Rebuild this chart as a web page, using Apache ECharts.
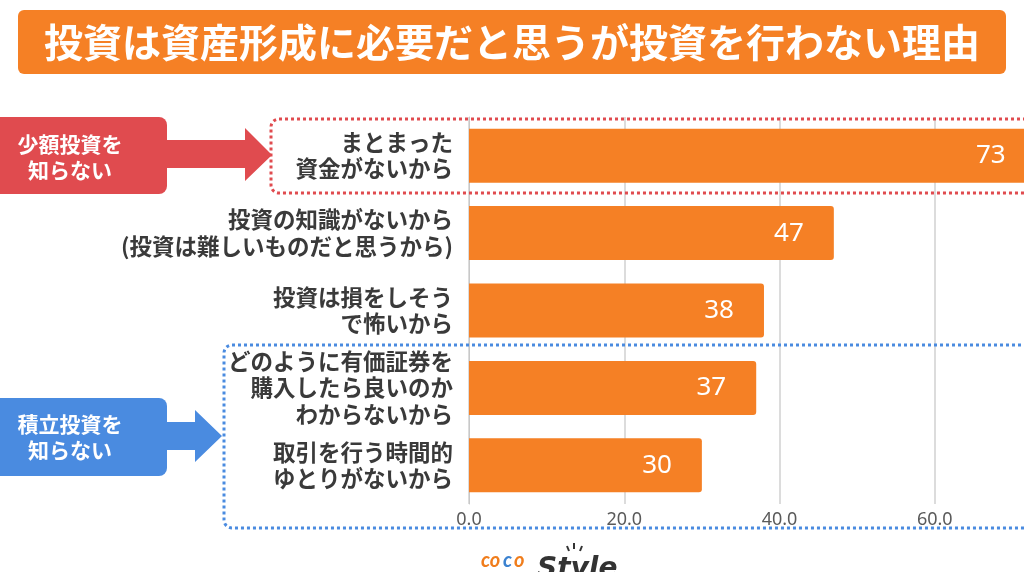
<!DOCTYPE html>
<html>
<head>
<meta charset="utf-8">
<script src="https://cdn.jsdelivr.net/npm/echarts@6/dist/echarts.min.js"></script>
<style>
  html, body { margin: 0; padding: 0; background: #fff; }
  #main { width: 1024px; height: 572px; }
</style>
</head>
<body>
<div id="main"></div>
<script>
var titleText = '投資は資産形成に必要だと思うが投資を行わない理由';
var categories = [
    'まとまった\n資金がないから',
    '投資の知識がないから\n(投資は難しいものだと思うから)',
    '投資は損をしそう\nで怖いから',
    'どのように有価証券を\n購入したら良いのか\nわからないから',
    '取引を行う時間的\nゆとりがないから'
];
var values = [73, 47, 38, 37, 30];
var noteRed = '少額投資を\n知らない';
var noteBlue = '積立投資を\n知らない';

var orange = '#f58025';
var red = '#e04b4f';
var blue = '#4a8be0';
var jp = '"Noto Sans CJK JP", "Noto Sans", sans-serif';

var myChart = echarts.init(document.getElementById('main'));
var option = {
    animation: false,
    backgroundColor: '#fff',
    grid: {
        left: 469,
        width: 621,   // 80 sits off the right edge, like the picture
        top: 117,
        bottom: 68,
        outerBoundsMode: 'none'
    },
    xAxis: {
        type: 'value',
        min: 0,
        max: 80,
        interval: 20,
        axisLine: { show: false },
        axisTick: { show: false },
        axisLabel: {
            color: '#5a5a5a',
            fontSize: 18,
            fontFamily: 'Noto Sans',
            margin: 7,
            formatter: function (v) { return v.toFixed(1); }
        },
        splitLine: { lineStyle: { color: '#dcdcdc', width: 2 } }
    },
    yAxis: {
        type: 'category',
        inverse: true,
        data: categories,
        axisLine: { show: true, lineStyle: { color: '#c8c8c8', width: 1 } },
        axisTick: { show: false },
        axisLabel: {
            color: '#3a3a3a',
            fontSize: 22.5,
            fontWeight: 'bold',
            lineHeight: 26.5,
            fontFamily: jp,
            margin: 16
        }
    },
    series: [{
        type: 'bar',
        data: values,
        barWidth: 54,
        itemStyle: { color: orange, borderRadius: [0, 3, 3, 0] },
        label: {
            show: true,
            position: 'insideRight',
            distance: 30,
            color: '#fff',
            fontSize: 26,
            fontFamily: 'Noto Sans'
        }
    }],
    graphic: [
        // title bar
        { type: 'rect', shape: { x: 18, y: 10, width: 988, height: 64, r: 6 }, style: { fill: orange } },
        { type: 'text', x: 512, y: 42, style: { text: titleText, fill: '#fff', font: 'bold 39px ' + jp, textAlign: 'center', textVerticalAlign: 'middle' } },
        // red note
        { type: 'rect', shape: { x: -10, y: 117, width: 177, height: 77, r: 8 }, style: { fill: red } },
        { type: 'polygon', shape: { points: [[160, 140], [245, 140], [245, 128], [272, 155], [245, 181], [245, 168], [160, 168]] }, style: { fill: red } },
        { type: 'text', x: 70, y: 157, style: { text: noteRed, fill: '#fff', font: 'bold 21px ' + jp, lineHeight: 26, textAlign: 'center', textVerticalAlign: 'middle' } },
        { type: 'rect', shape: { x: 271, y: 119, width: 800, height: 74, r: 8 }, style: { fill: 'none', stroke: red, lineWidth: 3, lineDash: [3, 3] }, z: 10 },
        // blue note
        { type: 'rect', shape: { x: -10, y: 398, width: 177, height: 78, r: 8 }, style: { fill: blue } },
        { type: 'polygon', shape: { points: [[160, 422], [195, 422], [195, 410], [222, 436], [195, 462], [195, 450], [160, 450]] }, style: { fill: blue } },
        { type: 'text', x: 70, y: 437, style: { text: noteBlue, fill: '#fff', font: 'bold 21px ' + jp, lineHeight: 26, textAlign: 'center', textVerticalAlign: 'middle' } },
        { type: 'rect', shape: { x: 224, y: 345, width: 850, height: 183, r: 8 }, style: { fill: 'none', stroke: blue, lineWidth: 3, lineDash: [3, 3] }, z: 10 },
        // logo
        { type: 'text', x: 481, y: 561, style: { text: 'co', fill: '#f07d1c', font: 'italic bold 20px Lato', textVerticalAlign: 'middle' } },
        { type: 'text', x: 503, y: 561, style: { text: 'c', fill: '#3b82d0', font: 'italic bold 20px Lato', textVerticalAlign: 'middle' } },
        { type: 'text', x: 514, y: 561, style: { text: 'o', fill: '#f07d1c', font: 'italic bold 20px Lato', textVerticalAlign: 'middle' } },
        { type: 'text', x: 537, y: 570, style: { text: 'Style', fill: '#333', font: 'italic bold 28px "DejaVu Sans"', textVerticalAlign: 'middle' } },
        { type: 'polyline', shape: { points: [[567, 546], [569, 551]] }, style: { stroke: '#333', lineWidth: 2 } },
        { type: 'polyline', shape: { points: [[574, 543], [574, 549]] }, style: { stroke: '#333', lineWidth: 2 } },
        { type: 'polyline', shape: { points: [[582, 546], [580, 551]] }, style: { stroke: '#333', lineWidth: 2 } }
    ]
};
myChart.setOption(option);
</script>
</body>
</html>
